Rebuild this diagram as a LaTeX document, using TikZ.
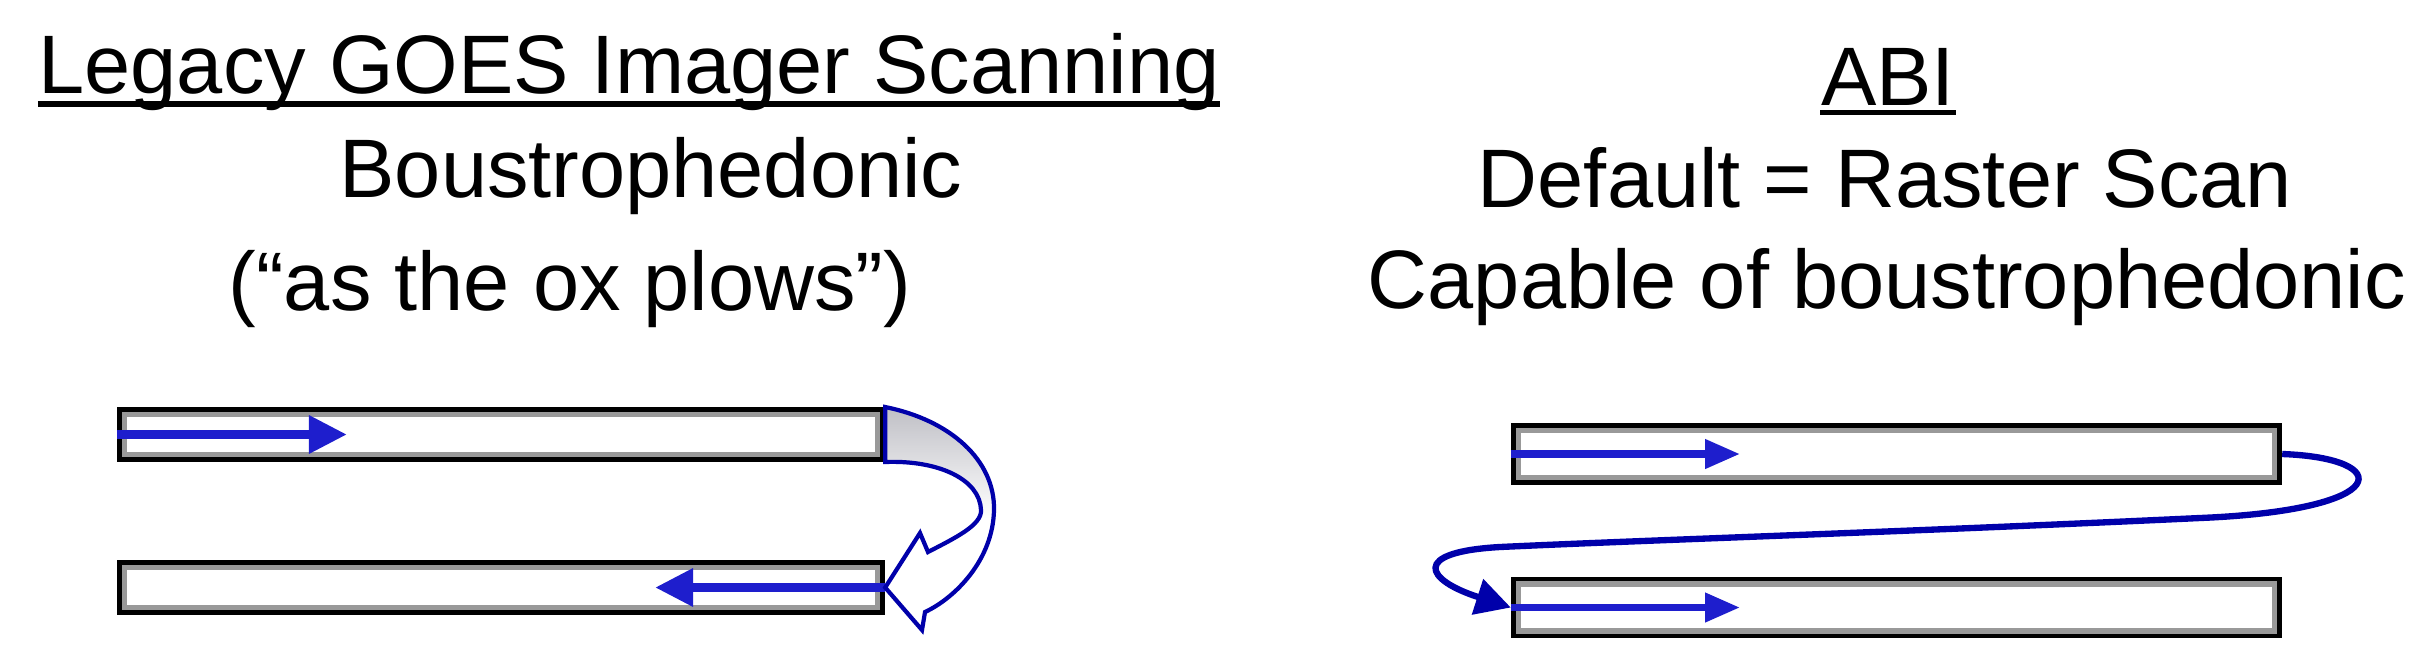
\documentclass[tikz,border=0pt]{standalone}
\usepackage{fontspec}
\setmainfont{Liberation Sans}
\usetikzlibrary{arrows.meta}
\definecolor{scanblue}{RGB}{30,30,205}
\definecolor{loopblue}{RGB}{0,0,170}
\begin{document}
\begin{tikzpicture}[x=0.01cm,y=-0.01cm]
    \tikzset{caption/.style = {inner sep=0pt,anchor=base,font=\fontsize{23.6}{28}\selectfont}}
    \tikzset{uline/.style = {line width=1.6pt}}
    \tikzset{bar/.style = {draw=black,line width=1.4pt,fill=black!40,inner sep=0pt,minimum width=7.63cm,
        path picture={\fill[white] ([xshift=2.2pt,yshift=2.2pt]path picture bounding box.south west) rectangle ([xshift=-2.2pt,yshift=-2.2pt]path picture bounding box.north east);}}}
    \tikzset{scan/.style = {scanblue,line width=2.6pt,-{Triangle[length=3.8mm,width=3.6mm]}}}
    \tikzset{raster/.style = {scanblue,line width=2.1pt,-{Triangle[length=3.5mm,width=2.8mm]}}}
    \tikzset{turn/.style = {draw=loopblue,line width=1.2pt,top color=blue!10!black!25,bottom color=white,middle color=white}}
    \tikzset{loop/.style = {loopblue,line width=1.8pt,-{Triangle[length=3.5mm,width=3.6mm]}}}
    \useasboundingbox (0,0) rectangle (2427,654);
    \node[caption] (legacy) at (629,93) {Legacy GOES Imager Scanning};
    \node[caption] (boust) at (651,197) {Boustrophedonic};
    \node[caption] (ox) at (570,310) {(“as the ox plows”)};
    \node[caption] (abi) at (1888,105) {ABI};
    \node[caption] (default) at (1885,207) {Default = Raster Scan};
    \node[caption] (capable) at (1887,308) {Capable of boustrophedonic};
    \draw[uline] ([yshift=-3.1pt]legacy.base west) -- ([yshift=-3.1pt]legacy.base east);
    \draw[uline] ([yshift=-2.1pt]abi.base west) -- ([yshift=-2.1pt]abi.base east);
    \node[bar,minimum height=0.50cm] (top1) at (501,434.5) {};
    \node[bar,minimum height=0.50cm] (bot1) at (501,587.5) {};
    \node[bar,minimum height=0.57cm,minimum width=7.66cm] (top2) at (1896.5,454) {};
    \node[bar,minimum height=0.57cm,minimum width=7.66cm] (bot2) at (1896.5,607.5) {};
    \coordinate (fwd1) at (347,434.5);
    \coordinate (back1) at (655,587.5);
    \coordinate (fwd2) at (1740,454);
    \coordinate (fwd3) at (1740,607.5);
    \draw[scan] (top1.west) -- (fwd1);
    \draw[scan] (bot1.east) -- (back1);
    \draw[raster] (top2.west) -- (fwd2);
    \draw[raster] (bot2.west) -- (fwd3);
    \draw[turn] (top1.north east) .. controls (950,420) and (995,460) .. (994,510)
        .. controls (993,560) and (955,598) .. (925,612) -- (922,630) -- (bot1.east) -- (920,533) -- (928,552)
        .. controls (955,538) and (982,525) .. (981,510) .. controls (980,480) and (940,460) .. (top1.south east) -- cycle;
    \draw[loop] (top2.east) .. controls (2395,458) and (2395,510) .. (2200,518)
        .. controls (1900,532) and (1650,540) .. (1500,547) .. controls (1410,552) and (1425,580) .. (bot2.west);
\end{tikzpicture}
\end{document}
